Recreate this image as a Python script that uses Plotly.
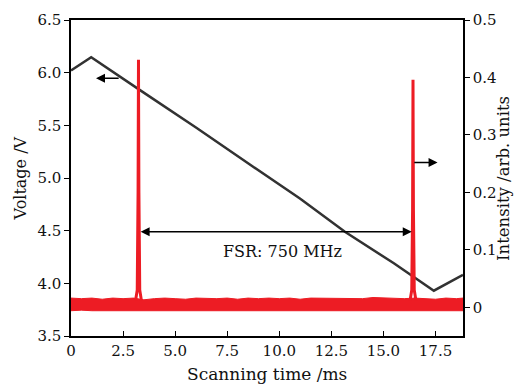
import plotly.graph_objects as go

# ---- data ----
volt_t = [0, 0.97, 3.33, 6.0, 8.5, 10.99, 13.15, 15.5, 17.42, 18.82]
volt_v = [6.02, 6.147, 5.832, 5.48, 5.14, 4.805, 4.49, 4.19, 3.93, 4.08]

noise_t = [0, 0.5, 1.0, 1.5, 2.0, 2.5, 3.0, 3.5, 4.0, 4.5, 5.0, 5.5, 6.0, 6.5, 7.0,
           7.5, 8.0, 8.5, 9.0, 9.5, 10.0, 10.5, 11.0, 11.5, 12.0, 12.5, 13.0, 13.5,
           14.0, 14.5, 15.0, 15.5, 16.0, 16.5, 17.0, 17.5, 18.0, 18.5, 18.82]
noise_hi = [0.016, 0.015, 0.016, 0.014, 0.016, 0.015, 0.016, 0.013, 0.015, 0.016,
            0.015, 0.014, 0.016, 0.015, 0.015, 0.016, 0.014, 0.016, 0.015, 0.016,
            0.015, 0.016, 0.014, 0.016, 0.016, 0.015, 0.016, 0.016, 0.015, 0.017,
            0.016, 0.016, 0.015, 0.016, 0.015, 0.014, 0.016, 0.015, 0.016]
noise_lo = [-0.006, -0.005, -0.006, -0.006, -0.005, -0.006, -0.006, -0.005, -0.006,
            -0.005, -0.006, -0.005, -0.006, -0.006, -0.005, -0.006, -0.006, -0.005,
            -0.006, -0.005, -0.006, -0.006, -0.005, -0.006, -0.006, -0.005, -0.006,
            -0.006, -0.005, -0.006, -0.006, -0.005, -0.006, -0.006, -0.005, -0.006,
            -0.006, -0.005, -0.006]

peak1_t = [3.10, 3.18, 3.22, 3.235, 3.24, 3.245, 3.26, 3.30, 3.38]
peak1_i = [0.012, 0.03, 0.20, 0.36, 0.431, 0.36, 0.20, 0.03, 0.012]
peak2_t = [16.28, 16.36, 16.40, 16.415, 16.42, 16.425, 16.44, 16.48, 16.56]
peak2_i = [0.012, 0.03, 0.17, 0.33, 0.396, 0.33, 0.17, 0.03, 0.012]

x_ticks = [0, 2.5, 5.0, 7.5, 10.0, 12.5, 15.0, 17.5]
x_labels = ["0", "2.5", "5.0", "7.5", "10.0", "12.5", "15.0", "17.5"]
y_ticks = [3.5, 4.0, 4.5, 5.0, 5.5, 6.0, 6.5]
y_labels = ["3.5", "4.0", "4.5", "5.0", "5.5", "6.0", "6.5"]
y2_ticks = [0, 0.1, 0.2, 0.3, 0.4, 0.5]
y2_labels = ["0", "0.1", "0.2", "0.3", "0.4", "0.5"]

x_title = "Scanning time /ms"
y_title = "Voltage /V"
y2_title = "Intensity /arb. units"

RED = "rgb(237,28,36)"
GRAY = "rgb(50,50,50)"
FONT = "DejaVu Serif"

fig = go.Figure()
fig.add_trace(go.Scatter(x=volt_t, y=volt_v, mode="lines",
                         line=dict(color=GRAY, width=2.5), yaxis="y"))
fig.add_trace(go.Scatter(x=noise_t, y=noise_lo, mode="lines",
                         line=dict(color=RED, width=1), yaxis="y2"))
fig.add_trace(go.Scatter(x=noise_t, y=noise_hi, mode="lines", fill="tonexty",
                         fillcolor=RED, line=dict(color=RED, width=1), yaxis="y2"))
fig.add_trace(go.Scatter(x=peak1_t, y=peak1_i, mode="lines",
                         line=dict(color=RED, width=3), yaxis="y2"))
fig.add_trace(go.Scatter(x=peak2_t, y=peak2_i, mode="lines",
                         line=dict(color=RED, width=3), yaxis="y2"))

arrow = dict(showarrow=True, arrowhead=2, arrowsize=1.2, arrowwidth=1.5,
             arrowcolor="black", text="")
fig.add_annotation(x=1.2, y=5.948, ax=2.36, ay=5.948, xref="x", yref="y",
                   axref="x", ayref="y", **arrow)
fig.add_annotation(x=17.6, y=0.252, ax=16.41, ay=0.252, xref="x", yref="y2",
                   axref="x", ayref="y2", **arrow)
fig.add_annotation(x=16.36, y=4.49, ax=3.27, ay=4.49, xref="x", yref="y",
                   axref="x", ayref="y", arrowside="end+start", **arrow)
fig.add_annotation(x=10.15, y=4.306, xref="x", yref="y", text="FSR: 750 MHz",
                   showarrow=False, font=dict(family=FONT, size=16, color="#111"))

# axis titles placed as paper annotations
fig.add_annotation(x=0.5, y=-0.12, xref="paper", yref="paper", text=x_title,
                   showarrow=False, xanchor="center", yanchor="middle",
                   font=dict(family=FONT, size=17, color="#111"))
fig.add_annotation(x=-0.129, y=0.5, xref="paper", yref="paper", text=y_title,
                   showarrow=False, textangle=-90, xanchor="center",
                   yanchor="middle", font=dict(family=FONT, size=16, color="#111"))
fig.add_annotation(x=1.102, y=0.5, xref="paper", yref="paper", text=y2_title,
                   showarrow=False, textangle=-90, xanchor="center",
                   yanchor="middle", font=dict(family=FONT, size=16.5, color="#111"))

# the page adds an 8 px body margin, so the figure is sized to fit inside it
fig.update_layout(
    width=514, height=379,
    margin=dict(l=63, r=59, t=12, b=51, autoexpand=False),
    paper_bgcolor="white", plot_bgcolor="white",
    showlegend=False,
    font=dict(family=FONT, size=15, color="#111"),
    xaxis=dict(range=[0, 18.82], tickvals=x_ticks, ticktext=x_labels,
               showline=True, mirror=True, linecolor="black", linewidth=1.5,
               ticks="inside", ticklen=5, tickcolor="black", showgrid=False,
               zeroline=False, automargin=False),
    yaxis=dict(range=[3.5, 6.5], tickvals=y_ticks, ticktext=y_labels,
               showline=True, linecolor="black", linewidth=1.5,
               ticks="outside", ticklen=5, tickcolor="black", showgrid=False,
               zeroline=False, automargin=False),
    yaxis2=dict(range=[-0.05, 0.5], tickvals=y2_ticks, ticktext=y2_labels,
                overlaying="y", side="right", showline=True, linecolor="black",
                linewidth=1.5, ticks="outside", ticklen=5, tickcolor="black",
                showgrid=False, zeroline=False, automargin=False),
)

fig.write_html("out.html")
